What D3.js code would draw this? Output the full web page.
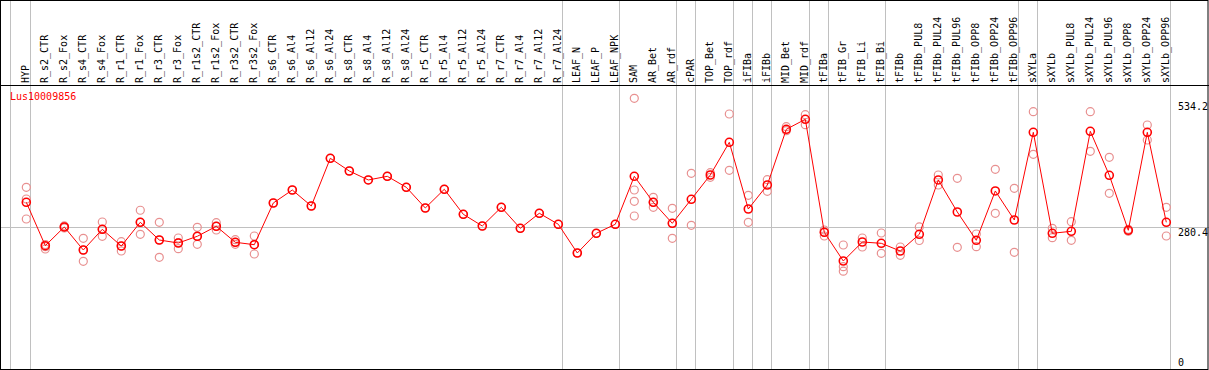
<!DOCTYPE html>
<html>
<head>
<meta charset="utf-8">
<script src="https://d3js.org/d3.v7.min.js"></script>
<style>
  body { margin: 0; background: #fff; }
  text { font-family: "DejaVu Sans Mono", monospace; font-size: 10px; }
</style>
</head>
<body>
<script>
// chart values
var categories = ["HYP","R_s2_CTR","R_s2_Fox","R_s4_CTR","R_s4_Fox","R_r1_CTR","R_r1_Fox","R_r3_CTR","R_r3_Fox",
  "R_r1s2_CTR","R_r1s2_Fox","R_r3s2_CTR","R_r3s2_Fox","R_s6_CTR","R_s6_Al4","R_s6_Al12","R_s6_Al24",
  "R_s8_CTR","R_s8_Al4","R_s8_Al12","R_s8_Al24","R_r5_CTR","R_r5_Al4","R_r5_Al12","R_r5_Al24",
  "R_r7_CTR","R_r7_Al4","R_r7_Al12","R_r7_Al24","LEAF_N","LEAF_P","LEAF_NPK","SAM","AR_Bet","AR_rdf",
  "cPAR","TOP_Bet","TOP_rdf","iFIBa","iFIBb","MID_Bet","MID_rdf","tFIBa","tFIB_Gr","tFIB_Li","tFIB_Bi",
  "tFIBb","tFIBb_PUL8","tFIBb_PUL24","tFIBb_PUL96","tFIBb_OPP8","tFIBb_OPP24","tFIBb_OPP96",
  "sXYLa","sXYLb","sXYLb_PUL8","sXYLb_PUL24","sXYLb_PUL96","sXYLb_OPP8","sXYLb_OPP24","sXYLb_OPP96"];

var means = [329.4,244.1,280.9,235.7,276.3,243.5,290.1,255.3,249.4,262.6,282.2,250.8,246.1,
  328.0,353.5,322.1,415.8,390.8,373.2,380.4,358.8,318.2,354.9,305.8,282.8,319.5,278.3,307.8,286.2,
  229.8,268.5,286.2,380.4,329.4,288.1,335.3,383.0,447.2,316.2,363.3,472.7,492.4,270.4,214.1,251.4,
  248.8,233.7,266.5,373.2,310.3,254.7,351.6,294.6,466.8,268.5,272.4,468.8,382.4,274.4,466.8,290.1];

var replicates = [
  [358.8,335.8,296.6],[246.5,242.2,237.6],[283,281,279],[258.7,213.5,235.7],[290.7,262.6,276.3],
  [252.0,233.7,243.5],[313.7,266.5,290.1],[290.1,221.3,255.3],[259.2,238.2,250],[280.3,246.9,262.6],
  [289.3,275.0,282.2],[255.9,246.9,250.8],[263.2,227.8,246.1],
  [328.0],[353.5],[322.1],[415.8],[390.8],[373.2],[380.4],[358.8],[318.2],[354.9],[305.8],[282.8],
  [319.5],[278.3],[307.8],[286.2],[229.8],[268.5],[286.2],
  [533.6,353.5,331.3,302.5],[339.2,319.5,329.4],[317.6,258.7,288.0],[386.3,284.2],[387.5,378.5],
  [502.8,392.2],[343.1,290.1],[373.7,351.0],[477.8,470.0],[501.4,481.8],[275.0,263.2,270.4],
  [245.5,202.9,194.0],[259.2,241.6],[269.1,229.2],[241.6,225.3],[280.9,254.3],[383.0,363.3],
  [376.5,241.0],[267.1,242.2],[394.2,307.8],[356.9,231.2],[507.3,423.6],[278.3,259.8],
  [291.3,254.7],[507.3,429.5],[417.7,347.0],[276.3,272.4],[481.2,451.7],[319.5,263.2]];

var groupEnds = ["HYP","R_r7_Al24","LEAF_NPK","AR_rdf","cPAR","TOP_rdf","iFIBa","iFIBb","MID_rdf",
  "tFIBa","tFIB_Bi","tFIBb_OPP96","sXYLa","sXYLb_OPP96"];
var yTicks = [0, 280.4, 534.2];
var geneName = "Lus10009856";

var W = 1209, H = 370;
var svg = d3.select("body").append("svg").attr("width", W).attr("height", H);

var x = d3.scalePoint().domain(categories).range([26.3, 1166.3]);
var y = d3.scaleLinear().domain([0, 534.2]).range([370, 98]);

// grey separators
svg.append("line").attr("x1", 10.5).attr("x2", 10.5).attr("y1", 0).attr("y2", H)
  .attr("stroke", "#c0c0c0");
svg.selectAll(".sep").data(groupEnds).enter().append("line")
  .attr("x1", function(d) { return Math.round(x(d) + 4) + 0.5; })
  .attr("x2", function(d) { return Math.round(x(d) + 4) + 0.5; })
  .attr("y1", 0).attr("y2", H)
  .attr("stroke", "#c0c0c0");

// mid line
svg.append("line").attr("x1", 0).attr("x2", W)
  .attr("y1", Math.round(y(yTicks[1])) + 0.5).attr("y2", Math.round(y(yTicks[1])) + 0.5)
  .attr("stroke", "#c0c0c0");

// borders
svg.append("rect").attr("x", 0.5).attr("y", 0.5).attr("width", W - 1.5).attr("height", H - 1)
  .attr("fill", "none").attr("stroke", "#000");
svg.append("line").attr("x1", 0).attr("x2", W).attr("y1", 85.5).attr("y2", 85.5).attr("stroke", "#000");

// category labels
svg.selectAll(".cat").data(categories).enter().append("text")
  .attr("transform", function(d) { return "translate(" + (x(d) + 3) + ",83) rotate(-90)"; })
  .attr("fill", "#000")
  .text(function(d) { return d; });

// axis labels on the right
var offs = [-4.5, 8.5, 12];
svg.selectAll(".yl").data(yTicks).enter().append("text")
  .attr("x", 1178)
  .attr("y", function(d, i) { return y(d) + offs[i]; })
  .attr("fill", "#000")
  .text(function(d) { return d; });

svg.append("text").attr("x", 10).attr("y", 100).attr("fill", "red").text(geneName);

// replicates
var reps = [];
replicates.forEach(function(r, i) {
  r.forEach(function(v) { reps.push({c: categories[i], v: v}); });
});
svg.selectAll(".rep").data(reps).enter().append("circle")
  .attr("cx", function(d) { return x(d.c); })
  .attr("cy", function(d) { return y(d.v); })
  .attr("r", 4)
  .attr("fill", "none")
  .attr("stroke", "#e89090")
  .attr("stroke-width", 1.2);

// mean line
var line = d3.line()
  .x(function(d, i) { return x(categories[i]); })
  .y(function(d) { return y(d); });
svg.append("path").datum(means).attr("d", line)
  .attr("fill", "none").attr("stroke", "red").attr("stroke-width", 1);

svg.selectAll(".mean").data(means).enter().append("circle")
  .attr("cx", function(d, i) { return x(categories[i]); })
  .attr("cy", function(d) { return y(d); })
  .attr("r", 4)
  .attr("fill", "none")
  .attr("stroke", "red")
  .attr("stroke-width", 1.6);
</script>
</body>
</html>
